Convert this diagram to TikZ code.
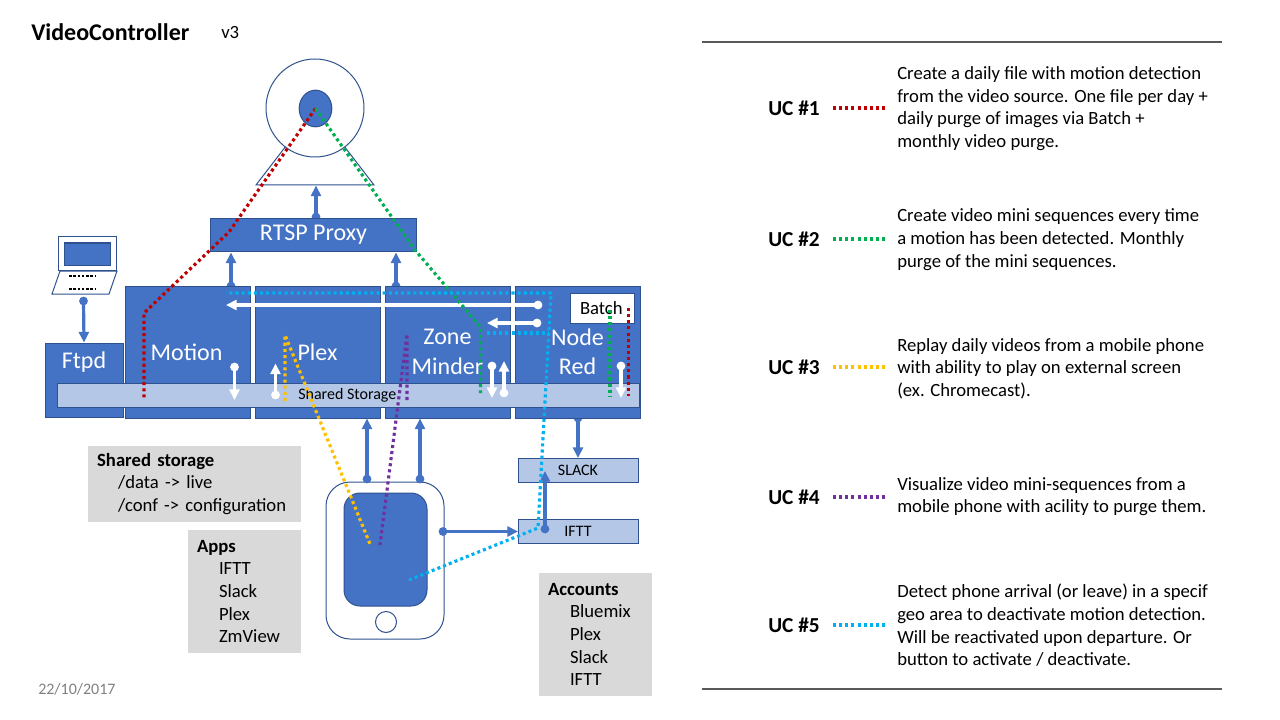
\documentclass[tikz,border=0pt]{standalone}
\usepackage{fontspec}
\setmainfont{Carlito}
\usetikzlibrary{arrows.meta,shapes.geometric}
\definecolor{bluefill}{HTML}{4472C4}
\definecolor{blueedge}{HTML}{2F528F}
\definecolor{lightfill}{HTML}{B4C7E7}
\definecolor{notegrey}{HTML}{D9D9D9}
\definecolor{ucred}{HTML}{C00000}
\definecolor{ucgreen}{HTML}{00B050}
\definecolor{ucyellow}{HTML}{FFC000}
\definecolor{ucpurple}{HTML}{7030A0}
\definecolor{uccyan}{HTML}{00B0F0}
\definecolor{rulegrey}{HTML}{595959}
\tikzset{
  box/.style={draw=blueedge,line width=0.75pt,fill=bluefill,text=white,inner sep=0pt,align=center,font=\fontsize{18}{22}\selectfont},
  lightbox/.style={draw=blueedge,line width=0.75pt,fill=lightfill,text=black,inner sep=0pt,font=\fontsize{12}{14.6}\selectfont},
  outline/.style={draw=blueedge,line width=0.75pt,fill=white},
  note/.style={fill=notegrey,inner sep=0pt,align=left,font=\fontsize{14}{17}\selectfont,text=black},
  uctext/.style={anchor=west,inner sep=0pt,align=left,font=\fontsize{14}{17}\selectfont},
  uclabel/.style={inner sep=0pt,font=\fontsize{16}{19}\selectfont\bfseries},
  flow/.style={line width=2.4pt,-{Triangle[length=8pt,width=7.5pt]}},
  blueflow/.style={flow,draw=bluefill},
  whiteflow/.style={flow,draw=white},
  ucline/.style={line width=2.35pt,line join=bevel,dash pattern=on 2.3pt off 2.3pt},
}
\newcommand{\flowline}[5]{%
  \coordinate (#1s) at (#3);
  \coordinate (#1e) at (#4);
  \fill[#5] (#1s) circle (3.3pt);
  \draw[#2] (#1s) -- (#1e);
}
\newcommand{\legendline}[3]{%
  \coordinate (#1a) at (833,#3);
  \coordinate (#1b) at (885,#3);
  \draw[ucline,#2] (#1a) -- (#1b);
}
\begin{document}
\begin{tikzpicture}[x=0.75pt,y=-0.75pt]
\useasboundingbox (0,0) rectangle (1280,720);
% arrows hidden in part behind boxes
\flowline{arCam}{blueflow}{316,217}{316,185.5}{bluefill}
\flowline{arMot}{blueflow}{231,286}{231,252.5}{bluefill}
\flowline{arZon}{blueflow}{396,286}{396,252.5}{bluefill}
\flowline{arSlk}{blueflow}{578,418}{578,458}{bluefill}
% camera
\draw[outline] (256,185) -- (286,146) -- (344,146) -- (374,185) -- cycle;
\node[outline,circle,minimum size=73.5pt,inner sep=0pt] (cam) at (315,108) {};
\node[draw=blueedge,line width=0.75pt,fill=bluefill,ellipse,minimum width=24.5pt,minimum height=27.5pt,inner sep=0pt] (lens) at (315.5,108.5) {};
% laptop
\draw[outline] (60,271) -- (117,271) -- (109,294) -- (52,294) -- cycle;
\node[draw=blueedge,line width=0.9pt,fill=white,minimum width=44pt,minimum height=26pt,inner sep=0pt] (laptop) at (87.5,253.5) {};
\node[draw=blueedge,line width=0.75pt,fill=bluefill,minimum width=34.5pt,minimum height=16.5pt,inner sep=0pt] (screen) at (87,254) {};
\draw[black,line width=1pt,dash pattern=on 2pt off 1.2pt] (69,276) -- (96,276);
\draw[black,line width=1pt,dash pattern=on 2pt off 1.2pt] (69,289) -- (96,289);
% boxes
\node[box,minimum width=155pt,minimum height=24pt] (rtsp) at (313.5,235) {\raisebox{-1.5pt}{RTSP Proxy}};
\node[box,minimum width=58.5pt,minimum height=56pt] (ftpd) at (84,380.5) {};
\node[inner sep=0pt,text=white,font=\fontsize{18}{22}\selectfont] (ftpdlabel) at (84,362) {Ftpd};
\node[box,minimum width=93.75pt,minimum height=99pt] (motion) at (187.5,352) {\hspace*{-1.5pt}Motion};
\node[box,minimum width=93.75pt,minimum height=99pt] (plex) at (317.5,352) {Plex};
\node[box,minimum width=93.75pt,minimum height=99pt] (zone) at (447.5,352) {Zone\\Minder};
\node[box,minimum width=93.75pt,minimum height=99pt] (nodered) at (577.5,352) {Node\\Red};
\node[lightbox,minimum width=436.5pt,minimum height=18pt] (storage) at (348,395) {\hspace*{-1pt}\raisebox{-0.75pt}{Shared Storage}};
\node[draw=blueedge,line width=0.75pt,fill=white,inner sep=0pt,minimum width=48pt,minimum height=22.5pt,font=\fontsize{14}{17}\selectfont] (batch) at (602,308) {\hspace*{-1pt}Batch};
\node[lightbox,minimum width=90pt,minimum height=18pt] (slack) at (578,470) {SLACK};
\node[lightbox,minimum width=90pt,minimum height=18pt] (ifttbox) at (578,531) {IFTT};
% phone
\draw[outline,rounded corners=18pt] (326,482) rectangle (444,639);
\draw[draw=blueedge,line width=0.75pt,fill=bluefill,rounded corners=12pt] (344,493) rectangle (427,606);
\node[outline,circle,minimum size=15.75pt,inner sep=0pt] (homebtn) at (386,622) {};
% notes
\node[note,minimum width=159.75pt,minimum height=57pt,anchor=center,text width=146pt] (n1) at (194.5,484) {\textbf{Shared storage}\\\hspace*{15.75pt}/data -> live\\\hspace*{15.75pt}/conf -> configuration};
\node[note,minimum width=84.75pt,minimum height=92.25pt,text width=71.25pt] (n2) at (244.5,591.5) {\textbf{Apps}\\\hspace*{16.5pt}IFTT\\\hspace*{16.5pt}Slack\\\hspace*{16.5pt}Plex\\\hspace*{16.5pt}ZmView};
\node[note,minimum width=84.75pt,minimum height=92.25pt,text width=71.25pt] (n3) at (595.5,634.5) {\textbf{Accounts}\\\hspace*{16.5pt}Bluemix\\\hspace*{16.5pt}Plex\\\hspace*{16.5pt}Slack\\\hspace*{16.5pt}IFTT};
% solid arrows
\flowline{arLap}{blueflow}{83.5,301}{84,342.5}{bluefill}
\flowline{arPh1}{blueflow}{367,479}{367,418.5}{bluefill}
\flowline{arPh2}{blueflow}{420,479}{420,418.5}{bluefill}
\flowline{arPh3}{blueflow}{443,531.5}{518,531.5}{bluefill}
\flowline{arIft}{blueflow}{545,529}{545,471}{bluefill}
\flowline{wa}{whiteflow}{538,305}{226,305}{white}
\flowline{wb}{whiteflow}{537,323}{487,323}{white}
\flowline{wc}{whiteflow}{234.5,367}{234.5,400}{white}
\flowline{wd}{whiteflow}{275.5,395}{275.5,363.5}{white}
\flowline{we}{whiteflow}{492,366}{492,398}{white}
\flowline{wf}{whiteflow}{504,393}{504,361}{white}
\flowline{wg}{whiteflow}{621,366}{621,398}{white}
% use-case paths
\coordinate (redA) at (229,232); \coordinate (redB) at (144,313); \coordinate (redC) at (144,399);
\draw[ucline,ucred] (lens.center) -- (redA) -- (redB) -- (redC);
\coordinate (redD) at (628.5,308); \coordinate (redE) at (628.5,396);
\draw[ucline,ucred] (redD) -- (redE);
\coordinate (grA) at (415,250); \coordinate (grB) at (480.5,327); \coordinate (grC) at (480.5,393);
\draw[ucline,ucgreen] (lens.center) -- (grA) -- (grB) -- (grC);
\coordinate (grD) at (610,310); \coordinate (grE) at (610,396);
\draw[ucline,ucgreen] (grD) -- (grE);
\coordinate (yeA) at (285,401); \coordinate (yeB) at (285,335); \coordinate (yeC) at (370,544);
\draw[ucline,ucyellow] (yeA) -- (yeB) -- (yeC);
\coordinate (puA) at (407,400); \coordinate (puB) at (407,334); \coordinate (puC) at (380,545);
\draw[ucline,ucpurple] (puA) -- (puB) -- (puC);
\coordinate (cyA) at (409,580); \coordinate (cyB) at (538,528); \coordinate (cyC) at (551,293); \coordinate (cyD) at (226,293);
\coordinate (cyE) at (487,333); \coordinate (cyF) at (548.5,333);
\draw[ucline,uccyan] (cyA) -- (cyB) -- (cyC) -- (cyD);
\draw[ucline,uccyan] (cyE) -- (cyF);
% title
\node[inner sep=0pt,anchor=west,font=\fontsize{18}{22}\selectfont\bfseries] (title) at (31,32) {VideoController};
\node[inner sep=0pt,anchor=west,font=\fontsize{14}{17}\selectfont] (version) at (221,32.5) {v3};
\node[inner sep=0pt,anchor=west,text=gray,font=\fontsize{12}{15}\selectfont] (date) at (38,689) {22/10/2017};
% legend
\coordinate (ruleTa) at (702,42); \coordinate (ruleTb) at (1222,42);
\coordinate (ruleBa) at (702,689); \coordinate (ruleBb) at (1222,689);
\draw[rulegrey,line width=1.1pt] (ruleTa) -- (ruleTb);
\draw[rulegrey,line width=1.1pt] (ruleBa) -- (ruleBb);
\node[uclabel] (uc1) at (794,108) {UC \#1};
\node[uclabel] (uc2) at (794,239) {UC \#2};
\node[uclabel] (uc3) at (794,367) {UC \#3};
\node[uclabel] (uc4) at (794,497) {UC \#4};
\node[uclabel] (uc5) at (794,625) {UC \#5};
\node[uctext] (t1) at (897,108.5) {Create a daily file with motion detection\\from the video source. One file per day +\\daily purge of images via Batch +\\monthly video purge.};
\node[uctext] (t2) at (897,239.5) {Create video mini sequences every time\\a motion has been detected.  Monthly\\purge of the mini sequences.};
\node[uctext] (t3) at (897,368.5) {Replay daily videos from a mobile phone\\with ability to play on external screen\\(ex. Chromecast).};
\node[uctext] (t4) at (897,496.5) {Visualize video mini-sequences from a\\mobile phone with acility to purge them.};
\node[uctext] (t5) at (897,625.5) {Detect phone arrival (or leave) in a specif\\geo area to deactivate motion detection.\\Will be reactivated upon departure. Or\\button to activate / deactivate.};
\legendline{la}{ucred}{108}
\legendline{lb}{ucgreen}{239}
\legendline{lc}{ucyellow}{367}
\legendline{ld}{ucpurple}{497}
\legendline{le}{uccyan}{625}
\end{tikzpicture}
\end{document}
